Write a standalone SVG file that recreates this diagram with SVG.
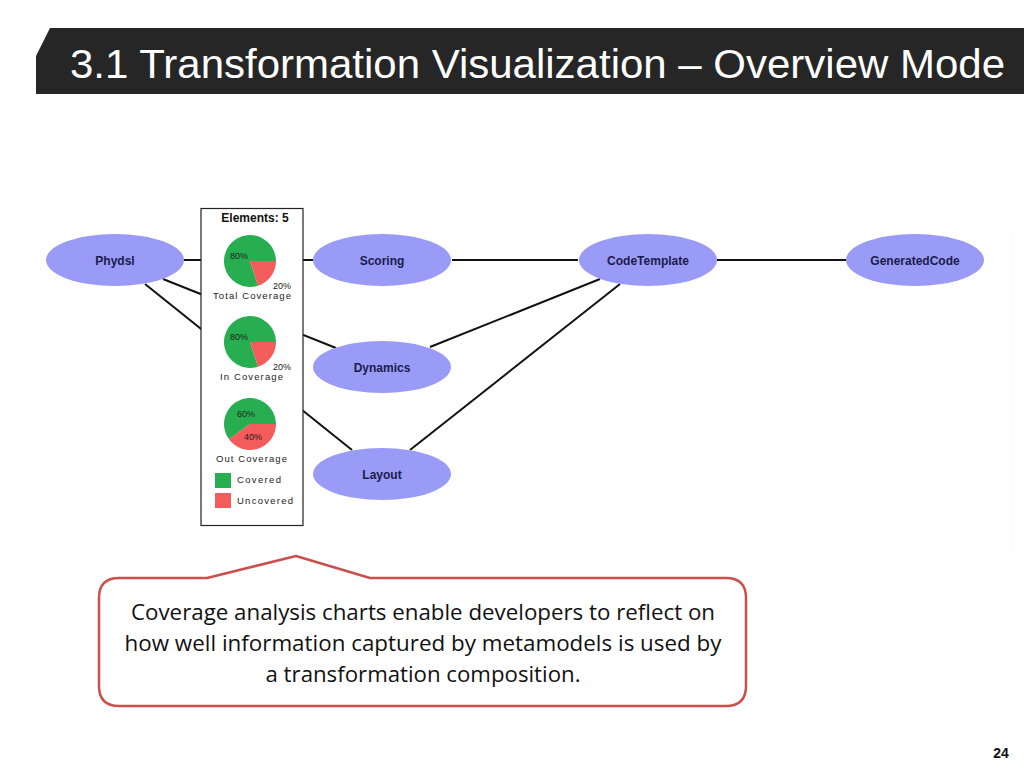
<svg xmlns="http://www.w3.org/2000/svg" width="1024" height="768" viewBox="0 0 1024 768">
<style>
.node ellipse{fill:#9a9af7;stroke:none}
.node text{font-family:"Liberation Sans",Arial,sans-serif;font-weight:bold;font-size:12px;fill:#1c1c4c;text-anchor:middle}
.edge{stroke:#111;stroke-width:2;fill:none}
.pt{font-family:"Liberation Sans",Arial,sans-serif;font-size:9.5px;fill:#222}
.pct{font-family:"Liberation Sans",Arial,sans-serif;font-size:9px;fill:#222}
.green{fill:#27ae50}
.red{fill:#f45b5b}
.callt{font-family:"Open Sans","Liberation Sans",sans-serif;font-size:21px;fill:#111;text-anchor:middle}
</style>
<rect width="1024" height="768" fill="#ffffff"/>
<g id="title">
<path d="M50,28 L1024,28 L1024,94 L36,94 L36,56 Z" fill="#262626"/>
<text x="70" y="78" font-family="Liberation Sans,Arial,sans-serif" font-size="41" fill="#ffffff" textLength="935" lengthAdjust="spacingAndGlyphs">3.1 Transformation Visualization – Overview Mode</text>
</g>
<line x1="1012" y1="232" x2="1012" y2="552" stroke="#f5f5f5" stroke-width="1"/>
<g id="connectors">
<line class="edge" x1="184" y1="260" x2="313" y2="260"/>
<line class="edge" x1="452" y1="260" x2="578" y2="260"/>
<line class="edge" x1="717" y1="260" x2="846" y2="260" stroke="#333" stroke-width="2.5"/>
<line class="edge" x1="163" y1="279" x2="336" y2="348"/>
<line class="edge" x1="145" y1="284" x2="352" y2="450"/>
<line class="edge" x1="600" y1="279" x2="430" y2="347"/>
<line class="edge" x1="620" y1="284" x2="410" y2="450"/>
</g>
<g id="node-phydsl" class="node"><ellipse cx="115" cy="260" rx="69" ry="26"/><text x="115" y="265">Phydsl</text></g>
<g id="node-scoring" class="node"><ellipse cx="382" cy="260" rx="69" ry="26"/><text x="382" y="265">Scoring</text></g>
<g id="node-codetemplate" class="node"><ellipse cx="648" cy="260" rx="69" ry="26"/><text x="648" y="265">CodeTemplate</text></g>
<g id="node-generatedcode" class="node"><ellipse cx="915" cy="260" rx="69" ry="26"/><text x="915" y="265">GeneratedCode</text></g>
<g id="node-dynamics" class="node"><ellipse cx="382" cy="367" rx="69" ry="26"/><text x="382" y="372">Dynamics</text></g>
<g id="node-layout" class="node"><ellipse cx="382" cy="474" rx="69" ry="26"/><text x="382" y="479">Layout</text></g>
<g id="coverage-panel">
<rect x="201" y="208.5" width="102" height="317" fill="#ffffff" stroke="#222" stroke-width="1.2"/>
<text x="255" y="222" text-anchor="middle" font-family="Liberation Sans,Arial,sans-serif" font-weight="bold" font-size="12" fill="#111">Elements: 5</text>
<path class="green" d="M250,261 L258.03,285.73 A26,26 0 1,1 276,261 Z"/>
<path class="red" d="M250,261 L276,261 A26,26 0 0,1 258.03,285.73 Z"/>
<text class="pct" x="230" y="259">80%</text>
<text class="pct" x="273" y="289">20%</text>
<text class="pt" x="213" y="299" textLength="78">Total Coverage</text>
<path class="green" d="M250,342 L258.03,366.73 A26,26 0 1,1 276,342 Z"/>
<path class="red" d="M250,342 L276,342 A26,26 0 0,1 258.03,366.73 Z"/>
<text class="pct" x="230" y="340">80%</text>
<text class="pct" x="273" y="370">20%</text>
<text class="pt" x="220" y="380" textLength="63">In Coverage</text>
<path class="green" d="M250,424 L228.97,439.28 A26,26 0 1,1 276,424 Z"/>
<path class="red" d="M250,424 L276,424 A26,26 0 0,1 228.97,439.28 Z"/>
<text class="pct" x="237" y="417">60%</text>
<text class="pct" x="244" y="440">40%</text>
<text class="pt" x="216" y="462" textLength="71">Out Coverage</text>
<rect class="green" x="215" y="473" width="16" height="15"/>
<text class="pt" x="237" y="483" textLength="44">Covered</text>
<rect class="red" x="215" y="493" width="16" height="15"/>
<text class="pt" x="237" y="504" textLength="56">Uncovered</text>
</g>
<g id="callout">
<path d="M120,578 L207,578 L296,556 L370,578 L726,578 Q746,578 746,598 L746,686 Q746,706 726,706 L119,706 Q99,706 99,686 L99,598 Q99,578 119,578 Z" fill="#ffffff" stroke="#c9504c" stroke-width="2.5" stroke-linejoin="round"/>
<text class="callt" x="423" y="620" textLength="584" lengthAdjust="spacingAndGlyphs">Coverage analysis charts enable developers to reflect on</text>
<text class="callt" x="423" y="651" textLength="597" lengthAdjust="spacingAndGlyphs">how well information captured by metamodels is used by</text>
<text class="callt" x="423" y="682" textLength="315" lengthAdjust="spacingAndGlyphs">a transformation composition.</text>
</g>
<text x="1001" y="758" text-anchor="middle" font-family="Liberation Sans,Arial,sans-serif" font-weight="bold" font-size="14" fill="#111">24</text>
</svg>
